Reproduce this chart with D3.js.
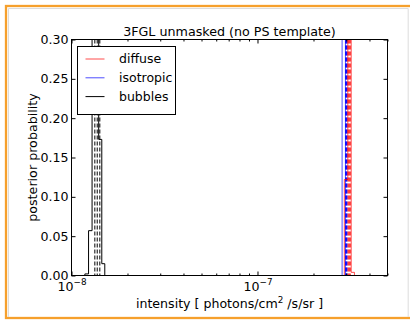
<!DOCTYPE html>
<html>
<head>
<meta charset="utf-8">
<script src="https://cdn.jsdelivr.net/npm/d3@7/dist/d3.min.js"></script>
<style>
  body { margin: 0; background: #fff; }
  svg { display: block; }
  text { font-family: "DejaVu Sans", sans-serif; fill: #000; }
</style>
</head>
<body>
<svg id="chart" width="410" height="320"></svg>
<script>
// Posterior probability of each template's intensity (step histograms)
const titleText = "3FGL unmasked (no PS template)";
const seriesNames = ["diffuse", "isotropic", "bubbles"];
const seriesColors = ["#ff0000", "#0000ff", "#000000"];
const seriesOpacity = [0.7, 0.7, 1];

// bin edges [photons/cm^2/s/sr] and probability per bin
const diffuseEdges = [2.93e-7, 3.06e-7, 3.19e-7, 3.32e-7];
const diffuseProb = [0.122, 0.874, 0.004];
const isotropicEdges = [2.85e-7, 2.91e-7, 2.97e-7];
const isotropicProb = [0.55, 0.45];
const bubblesEdges = [1.18e-8, 1.235e-8, 1.29e-8, 1.345e-8, 1.40e-8, 1.455e-8, 1.51e-8];
const bubblesProb = [0.002, 0.057, 0.42, 0.333, 0.173, 0.015];

// dashed markers: 16th / 50th / 84th percentiles
const diffuseQuantiles = [3.07e-7, 3.11e-7, 3.15e-7];
const isotropicQuantiles = [2.98e-7, 3.005e-7, 3.03e-7];
const bubblesQuantiles = [1.335e-8, 1.375e-8, 1.42e-8];

// axis ticks
const xDomain = [1e-8, 5e-7];
const xMajorTicks = [1e-8, 1e-7];
const xMajorExponents = ["\u22128", "\u22127"];
const xMinorTicks = [2e-8, 3e-8, 4e-8, 5e-8, 6e-8, 7e-8, 8e-8, 9e-8, 2e-7, 3e-7, 4e-7, 5e-7];
const yDomain = [0, 0.30];
const yTicks = [0, 0.05, 0.10, 0.15, 0.20, 0.25, 0.30];
const yTickLabels = ["0.00", "0.05", "0.10", "0.15", "0.20", "0.25", "0.30"];

const fontSize = 12.6;
const svg = d3.select("#chart");
const plotLeft = 71.5, plotRight = 387.5, plotTop = 39.5, plotBottom = 275.5;

const x = d3.scaleLog().domain(xDomain).range([plotLeft, plotRight]);
const y = d3.scaleLinear().domain(yDomain).range([plotBottom, plotTop]);

// page frame
svg.append("rect").attr("x", 6).attr("y", 6).attr("width", 440).attr("height", 312)
  .attr("fill", "none").attr("stroke", "#f6a02c").attr("stroke-width", 2.3);
svg.append("path").attr("d", "M8.5,317 V8.5 H408.2 V317")
  .attr("fill", "none").attr("stroke", "#dcdcdc").attr("stroke-width", 1);

// clip region for the plotting area
svg.append("defs").append("clipPath").attr("id", "plotClip")
  .append("rect").attr("x", plotLeft).attr("y", plotTop)
  .attr("width", plotRight - plotLeft).attr("height", plotBottom - plotTop);

const plot = svg.append("g").attr("clip-path", "url(#plotClip)");

const series = [
  { edges: diffuseEdges, prob: diffuseProb, q: diffuseQuantiles },
  { edges: isotropicEdges, prob: isotropicProb, q: isotropicQuantiles },
  { edges: bubblesEdges, prob: bubblesProb, q: bubblesQuantiles }
];

function stepPoints(edges, prob) {
  const pts = [[edges[0], 0]];
  prob.forEach((p, i) => { pts.push([edges[i], p]); pts.push([edges[i + 1], p]); });
  pts.push([edges[edges.length - 1], 0]);
  return pts;
}
const stepLine = d3.line().x(d => x(d[0])).y(d => y(Math.min(d[1], 0.32)));

// draw order: bubbles, isotropic, diffuse
[2, 1, 0].forEach(i => {
  const s = series[i];
  plot.append("path").attr("d", stepLine(stepPoints(s.edges, s.prob)))
    .attr("fill", "none").attr("stroke", seriesColors[i])
    .attr("stroke-opacity", seriesOpacity[i]).attr("stroke-width", 1);
  plot.selectAll(null).data(s.q).enter().append("line")
    .attr("x1", d => x(d)).attr("x2", d => x(d))
    .attr("y1", plotTop).attr("y2", plotBottom)
    .attr("stroke", seriesColors[i]).attr("stroke-width", 1)
    .attr("stroke-dasharray", "4,2");
});

// axes with inward ticks
const gLeft = svg.append("g").attr("transform", `translate(${plotLeft},0)`)
  .call(d3.axisLeft(y).tickValues(yTicks).tickFormat((d, i) => yTickLabels[i]).tickSize(-4).tickPadding(3));
const gRight = svg.append("g").attr("transform", `translate(${plotRight},0)`)
  .call(d3.axisRight(y).tickValues(yTicks).tickFormat("").tickSize(-4));
const gBottom = svg.append("g").attr("transform", `translate(0,${plotBottom})`)
  .call(d3.axisBottom(x).tickValues(xMajorTicks).tickFormat("").tickSize(-4).tickPadding(5));
const gBottomMinor = svg.append("g").attr("transform", `translate(0,${plotBottom})`)
  .call(d3.axisBottom(x).tickValues(xMinorTicks).tickFormat("").tickSize(-2));
const gTop = svg.append("g").attr("transform", `translate(0,${plotTop})`)
  .call(d3.axisTop(x).tickValues(xMajorTicks).tickFormat("").tickSize(-4));
const gTopMinor = svg.append("g").attr("transform", `translate(0,${plotTop})`)
  .call(d3.axisTop(x).tickValues(xMinorTicks).tickFormat("").tickSize(-2));

[gLeft, gRight, gBottom, gBottomMinor, gTop, gTopMinor].forEach(g => {
  g.select(".domain").remove();
  g.selectAll(".tick line").attr("stroke", "#000");
});
gLeft.selectAll(".tick text").attr("font-size", fontSize).attr("font-family", "DejaVu Sans").attr("fill", "#000");

// power-of-ten labels under the major x ticks
const xLab = gBottom.selectAll(".tick text")
  .attr("font-size", fontSize).attr("font-family", "DejaVu Sans").attr("fill", "#000")
  .attr("y", 15.5).attr("dy", null).text(null);
xLab.append("tspan").text("10");
xLab.append("tspan").attr("font-size", 8.8).attr("dy", -6.3).text((d, i) => xMajorExponents[i]);

// frame
svg.append("rect").attr("x", plotLeft).attr("y", plotTop)
  .attr("width", plotRight - plotLeft).attr("height", plotBottom - plotTop)
  .attr("fill", "none").attr("stroke", "#000").attr("stroke-width", 1);

// title and axis labels
svg.append("text").attr("x", (plotLeft + plotRight) / 2).attr("y", 35.5).attr("text-anchor", "middle")
  .attr("font-size", 12.7).text(titleText);

const xl = svg.append("text").attr("x", (plotLeft + plotRight) / 2).attr("y", 307.5)
  .attr("text-anchor", "middle").attr("font-size", fontSize);
xl.append("tspan").text("intensity [ photons/cm");
xl.append("tspan").attr("font-size", 8.8).attr("dy", -5).text("2");
xl.append("tspan").attr("dy", 5).text(" /s/sr ]");

svg.append("text").attr("transform", `translate(36.5,${(plotTop + plotBottom) / 2}) rotate(-90)`)
  .attr("text-anchor", "middle").attr("font-size", 12.7).text("posterior probability");

// legend
const legend = svg.append("g");
legend.append("rect").attr("x", 77.5).attr("y", 46.5).attr("width", 98).attr("height", 68)
  .attr("fill", "#fff").attr("stroke", "#000").attr("stroke-width", 1);
seriesNames.forEach((name, i) => {
  const ly = 59 + i * 18.8;
  legend.append("line").attr("x1", 85.5).attr("x2", 104.5).attr("y1", ly).attr("y2", ly)
    .attr("stroke", seriesColors[i]).attr("stroke-opacity", seriesOpacity[i]).attr("stroke-width", 1);
  legend.append("text").attr("x", 119).attr("y", ly + 4.4).attr("font-size", 12.5).text(name);
});
</script>
</body>
</html>
